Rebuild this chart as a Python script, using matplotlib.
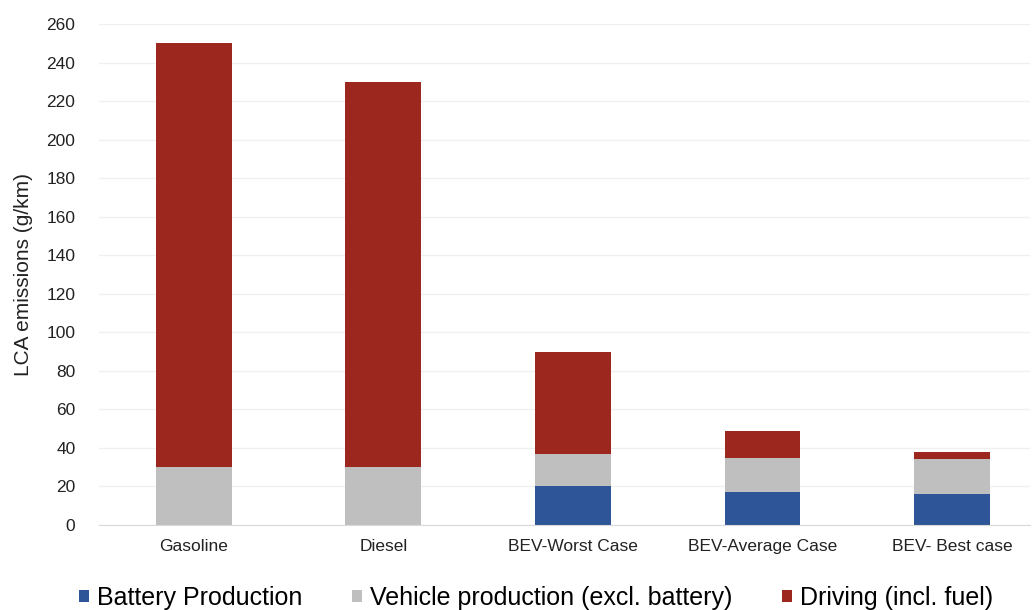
import matplotlib
matplotlib.use("Agg")
import matplotlib.pyplot as plt
import numpy as np

categories = ["Gasoline", "Diesel", "BEV-Worst Case", "BEV-Average Case", "BEV- Best case"]
battery = [0, 0, 20, 17, 16]
vehicle = [30, 30, 17, 18, 18]
driving = [220, 200, 53, 14, 4]
series_names = ["Battery Production", "Vehicle production (excl. battery)", "Driving (incl. fuel)"]
colors = ["#2E5597", "#BFBFBF", "#9C271F"]
yticks = list(range(0, 261, 20))

plt.rcParams['font.family'] = ['Liberation Sans', 'DejaVu Sans']
W, H = 1035, 610
fig = plt.figure(figsize=(W/100, H/100), dpi=100)
ax = fig.add_axes([99/W, (H-525)/H, (1030-99)/W, (525-24)/H])

x = np.arange(len(categories))
w = 0.4
b1 = ax.bar(x, battery, w, color=colors[0], label=series_names[0])
b2 = ax.bar(x, vehicle, w, bottom=battery, color=colors[1], label=series_names[1])
bottom2 = np.array(battery) + np.array(vehicle)
b3 = ax.bar(x, driving, w, bottom=bottom2, color=colors[2], label=series_names[2])

ax.set_ylim(0, 260)
ax.set_xlim(-0.5, 4.5 - 17/190)
ax.set_yticks(yticks)
ax.set_xticks(x)
ax.set_xticklabels(categories, fontsize=12.5, color="#222222")
ax.tick_params(axis='y', labelsize=12.5, colors="#222222", length=0, pad=17)
ax.tick_params(axis='x', length=0, pad=10)
ax.yaxis.grid(True, color="#F0F0F0", linewidth=1)
ax.set_axisbelow(True)
for s in ["top", "right", "left"]:
    ax.spines[s].set_visible(False)
ax.spines["bottom"].set_color("#D9D9D9")
ax.set_ylabel("LCA emissions (g/km)", fontsize=15, color="#222222")
ax.yaxis.set_label_coords(-(99-33)/(1030-99), 0.5)

leg = fig.legend(handles=[b1, b2, b3], labels=series_names, loc="center",
                 bbox_to_anchor=(536/W, (H-598)/H), ncol=3, frameon=False,
                 fontsize=18, handlelength=0.4, handleheight=0.4, handletextpad=0.3,
                 columnspacing=2.0)

fig.savefig("out.png", dpi=100)
